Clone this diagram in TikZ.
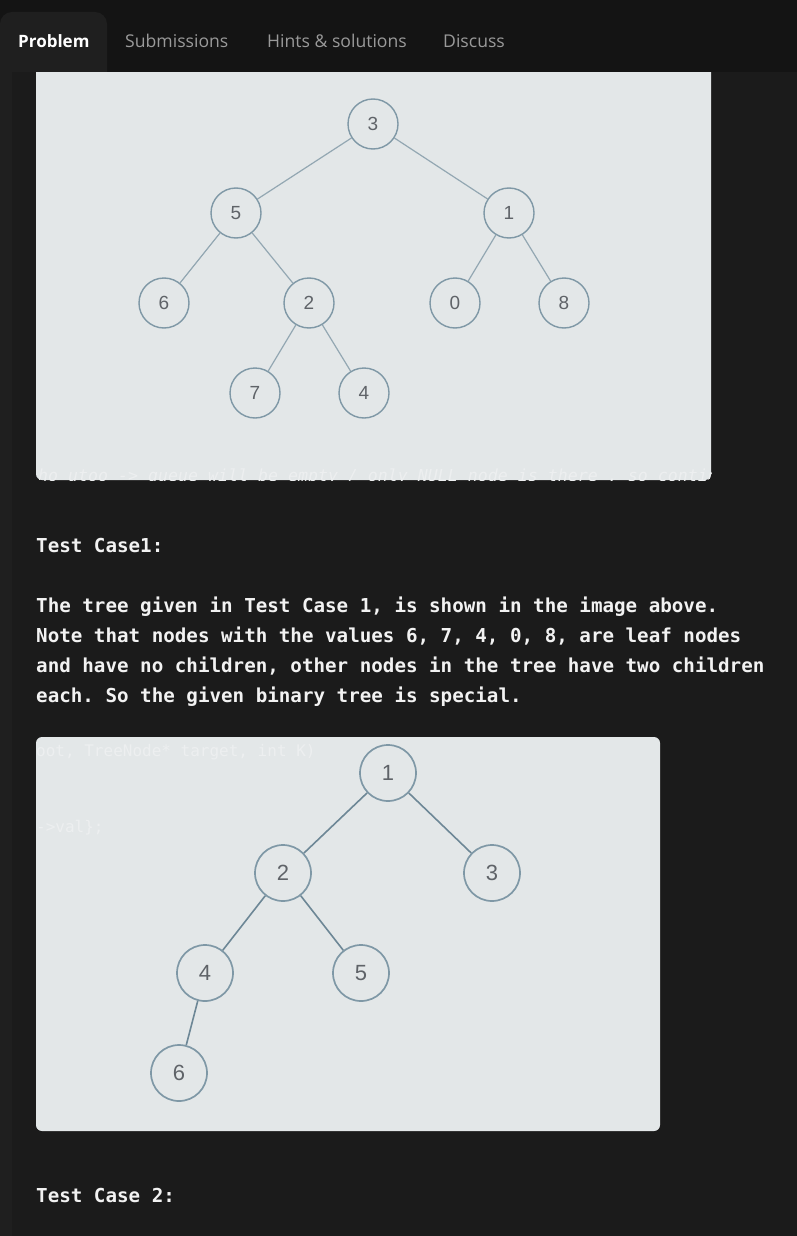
\documentclass[tikz,border=0pt]{standalone}
\usepackage{fontspec}
\setmainfont{Liberation Sans}
\newfontfamily\monob{DejaVu Sans Mono}
\newfontfamily\tabfont{Open Sans}
\newfontfamily\digitfont{Liberation Sans}
\frenchspacing
\definecolor{barbg}{HTML}{141414}
\definecolor{pagebg}{HTML}{1B1B1B}
\definecolor{stripbg}{HTML}{1F1F1F}
\definecolor{tabbg}{HTML}{1F1F1F}
\definecolor{panelbg}{HTML}{E3E7E8}
\definecolor{faint}{HTML}{EDEFF0}
\definecolor{nodeline}{HTML}{7F98A6}
\definecolor{edgeA}{HTML}{93A7B2}
\definecolor{edgeB}{HTML}{6D8796}
\definecolor{digit}{HTML}{5F6368}
\definecolor{tabgray}{HTML}{9A9A9A}
\definecolor{bodytext}{HTML}{F2F2F2}
\tikzset{
  treeA/.style={circle,draw=nodeline,line width=1.4pt,fill=panelbg,minimum size=50pt,inner sep=0pt,text=digit,font=\digitfont\fontsize{19}{19}\selectfont},
  treeB/.style={circle,draw=nodeline,line width=1.7pt,fill=panelbg,minimum size=56pt,inner sep=0pt,text=digit,font=\digitfont\fontsize{22}{22}\selectfont},
  edgeone/.style={draw=edgeA,line width=1.2pt},
  edgetwo/.style={draw=edgeB,line width=1.6pt},
  bodyline/.style={anchor=base west,inner sep=0pt,text=bodytext,font=\monob\bfseries\fontsize{19.2}{19.2}\selectfont},
  faintcode/.style={anchor=base west,inner sep=0pt,text=faint,font=\monob\fontsize{16}{16}\selectfont},
  tablabel/.style={anchor=base west,inner sep=0pt,font=\tabfont\fontsize{17.6}{17.6}\selectfont}
}
\begin{document}
\begin{tikzpicture}[x=1pt,y=-1pt]
\useasboundingbox (0,0) rectangle (797,1236);
% backgrounds
\fill[pagebg] (0,0) rectangle (797,1236);
\fill[stripbg] (0,60) rectangle (12,1236);
% panel 1
\fill[panelbg,rounded corners=6pt] (36,40) rectangle (711,480);
\begin{scope}
\clip[rounded corners=6pt] (36,40) rectangle (711,480);
\node[faintcode,font=\monob\itshape\fontsize{16.6}{16.6}\selectfont] (fa) at (38,481) {ho utoo -> queue will be empty / only NULL node  is there , so contin};
\end{scope}
% top bar
\fill[barbg] (0,0) rectangle (797,72);
\fill[tabbg] (0,72) [rounded corners=12pt] -- (0,12) -- (107,12) [sharp corners] -- (107,72) -- cycle;
\node[tablabel,text=white,font=\tabfont\bfseries\fontsize{17}{17}\selectfont] (t1) at (18,48) {Problem};
\node[tablabel,text=tabgray] (t2) at (125,48) {Submissions};
\node[tablabel,text=tabgray] (t3) at (267,48) {Hints \& solutions};
\node[tablabel,text=tabgray] (t4) at (443,48) {Discuss};
% tree 1
\node[treeA] (a3) at (373,124) {3};
\node[treeA] (a5) at (236,213) {5};
\node[treeA] (a1) at (509,213) {1};
\node[treeA] (a6) at (164,303) {6};
\node[treeA] (a2) at (309,303) {2};
\node[treeA] (a0) at (455,303) {0};
\node[treeA] (a8) at (564,303) {8};
\node[treeA] (a7) at (255,393) {7};
\node[treeA] (a4) at (364,393) {4};
\draw[edgeone] (a3) -- (a5);
\draw[edgeone] (a3) -- (a1);
\draw[edgeone] (a5) -- (a6);
\draw[edgeone] (a5) -- (a2);
\draw[edgeone] (a1) -- (a0);
\draw[edgeone] (a1) -- (a8);
\draw[edgeone] (a2) -- (a7);
\draw[edgeone] (a2) -- (a4);
% text
\node[bodyline] (l0) at (36,552) {Test Case1:};
\node[bodyline] (l1) at (36,612) {The tree given in Test Case 1, is shown in the image above.};
\node[bodyline] (l2) at (36,642) {Note that nodes with the values 6, 7, 4, 0, 8, are leaf nodes};
\node[bodyline] (l3) at (36,672) {and have no children, other nodes in the tree have two children};
\node[bodyline] (l4) at (36,702) {each. So the given binary tree is special.};
% panel 2
\fill[panelbg,rounded corners=6pt] (36,737) rectangle (660,1131);
\node[faintcode] (fb) at (36,756) {oot, TreeNode* target, int K)};
\node[faintcode] (fc) at (36,832) {->val\};};
% tree 2
\node[treeB] (b1) at (388,773) {1};
\node[treeB] (b2) at (283,873) {2};
\node[treeB] (b3) at (492,873) {3};
\node[treeB] (b4) at (205,973) {4};
\node[treeB] (b5) at (361,973) {5};
\node[treeB] (b6) at (179,1073) {6};
\draw[edgetwo] (b1) -- (b2);
\draw[edgetwo] (b1) -- (b3);
\draw[edgetwo] (b2) -- (b4);
\draw[edgetwo] (b2) -- (b5);
\draw[edgetwo] (b4) -- (b6);
\node[bodyline] (l5) at (36,1202) {Test Case 2:};
\end{tikzpicture}
\end{document}
